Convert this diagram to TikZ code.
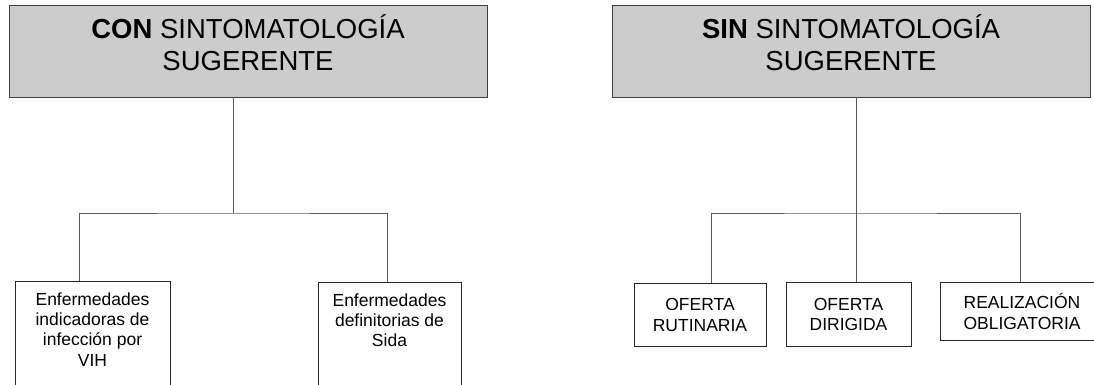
\documentclass[tikz,border=0pt]{standalone}
\usepackage{fontspec}
\setmainfont{Liberation Sans}
\usetikzlibrary{positioning}

\begin{document}
\begin{tikzpicture}[x=1pt, y=-1pt,
    headbox/.style={draw=black!75, fill=black!20, line width=0.9pt, minimum width=478pt, minimum height=92pt, inner sep=0pt},
    headtext/.style={align=center, inner sep=0pt, font=\fontsize{27.5}{32.4}\selectfont},
    leafbox/.style={draw=black!85, line width=0.9pt, inner sep=0pt, anchor=north, align=center, font=\fontsize{17.5}{20.3}\selectfont},
    leaftext/.style={align=center, inner sep=0pt, anchor=north, font=\fontsize{17.5}{20.3}\selectfont},
    link/.style={draw=black!65, line width=0.9pt}]
    \useasboundingbox (0, 0) rectangle (1094, 385);
    % con sintomatologia
    \node[headbox] (conbox) at (248, 51) {};
    \node[headtext, anchor=north] (contitle) at ([yshift=-10pt]conbox.north) {\textbf{CON} SINTOMATOLOGÍA\\SUGERENTE};
    \node[leafbox, minimum width=155pt, minimum height=140pt] (vih) at (92.5, 281) {};
    \node[leaftext] (vihtext) at ([yshift=-11.3pt]vih.north) {Enfermedades\\indicadoras de\\infección por\\VIH};
    \node[leafbox, minimum width=143pt, minimum height=140pt] (sida) at (389.5, 282) {};
    \node[leaftext] (sidatext) at ([yshift=-11.3pt]sida.north) {Enfermedades\\definitorias de\\Sida};
    \coordinate (conjoin) at (233, 213);
    \draw[link] (conbox.south -| conjoin) -- (conjoin);
    \draw[link] ([xshift=-13.5pt]vih.north) |- (conjoin) -| ([xshift=-2pt]sida.north);
    % sin sintomatologia
    \node[headbox] (sinbox) at (851, 51) {};
    \node[headtext, anchor=north] (sintitle) at ([yshift=-10pt]sinbox.north) {\textbf{SIN} SINTOMATOLOGÍA\\SUGERENTE};
    \node[leafbox, minimum width=132pt, minimum height=63pt] (rutinaria) at (700, 283) {OFERTA\\RUTINARIA};
    \node[leafbox, minimum width=125pt, minimum height=64pt] (dirigida) at (848.5, 282) {OFERTA\\DIRIGIDA};
    \node[leafbox, minimum width=164pt, minimum height=58pt] (obligatoria) at (1022, 282) {REALIZACIÓN\\OBLIGATORIA};
    \coordinate (sinjoin) at (856, 213);
    \draw[link] (sinbox.south -| sinjoin) -- (dirigida.north -| sinjoin);
    \draw[link] ([xshift=11pt]rutinaria.north) |- (sinjoin) -| ([xshift=-2pt]obligatoria.north);
\end{tikzpicture}
\end{document}
